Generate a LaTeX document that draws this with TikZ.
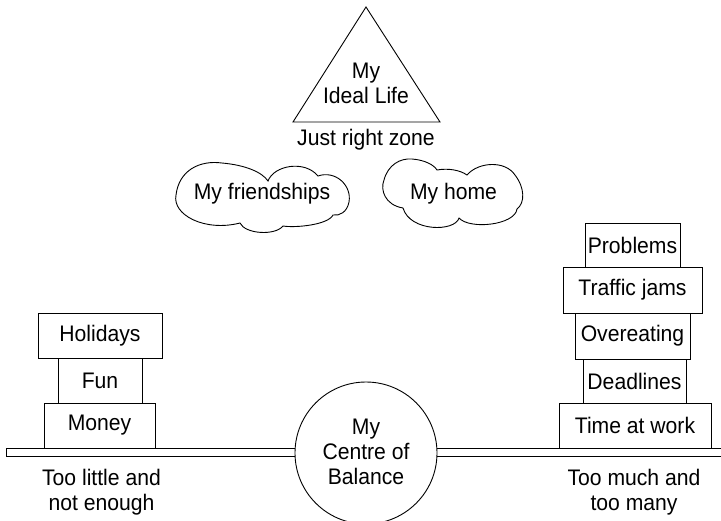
\documentclass[tikz,border=0pt]{standalone}
\usepackage{fontspec}
\setmainfont{Liberation Sans}[FakeStretch=0.94]
\begin{document}
\begin{tikzpicture}[x=1pt,y=-1pt,
  every node/.style={font=\fontsize{22.5}{25}\selectfont},
  lw/.style={line width=0.9pt},
  stackbox/.style={lw,draw,fill=white,inner sep=0pt,minimum height=45pt},
  cloudline/.style={lw,line join=miter},
  lbl/.style={align=center,inner sep=0pt}]
\useasboundingbox (0,0) rectangle (721,520);
% plank
\node[lw,draw,inner sep=0pt,minimum width=715pt,minimum height=8pt] (plank) at (364,452) {};
% centre circle
\node[lw,draw,fill=white,circle,minimum size=142pt,inner sep=0pt] (centre) at (366,453) {};
\node[lbl] (centretext) at (366,452) {My\\Centre of\\Balance};
% triangle
\coordinate (apex) at (366,7);
\coordinate (bl) at (293,122);
\coordinate (br) at (440,122);
\draw[lw,line join=miter] (apex) -- (bl) -- (br) -- cycle;
\node[lbl] (ideal) at (366,83) {My\\Ideal Life};
\node[lbl] (zone) at (366,140) {Just right zone};
% cloud: my friendships
\draw[cloudline] (240,223)
  .. controls (205,232) and (172,215) .. (176,195)
  .. controls (179,170) and (200,160) .. (222,163)
  .. controls (245,165) and (262,172) .. (268,181)
  .. controls (274,165) and (305,160) .. (318,176)
  .. controls (335,170) and (352,185) .. (349,202)
  .. controls (347,212) and (340,216) .. (333,215)
  .. controls (328,225) and (295,228) .. (283,226)
  .. controls (275,236) and (245,234) .. cycle;
\node[inner sep=0pt] (friendstext) at (262,194) {My friendships};
% cloud: my home
\draw[cloudline] (403,208)
  .. controls (385,205) and (380,190) .. (384,180)
  .. controls (388,165) and (400,158) .. (412,159)
  .. controls (425,160) and (434,165) .. (437,170)
  .. controls (448,168) and (460,170) .. (467,175)
  .. controls (478,162) and (505,160) .. (515,175)
  .. controls (525,188) and (525,203) .. (517,209)
  .. controls (515,225) and (470,230) .. (459,218)
  .. controls (455,232) and (410,232) .. cycle;
\node[inner sep=0pt] (hometext) at (453.5,194) {My home};
% left stack
\node[stackbox,minimum width=124pt] (holidays) at (100,335.5) {Holidays};
\node[stackbox,minimum width=84pt] (fun) at (100,380.5) {Fun};
\node[stackbox,minimum width=111pt] (money) at (99.5,425.5) {Money};
% right stack
\node[stackbox,minimum width=95pt,minimum height=44pt] (problems) at (632.5,245) {Problems};
\node[stackbox,minimum width=139pt,minimum height=46pt] (traffic) at (632.5,290) {Traffic jams};
\node[stackbox,minimum width=115pt,minimum height=46pt] (overeating) at (632.5,336) {Overeating};
\node[stackbox,minimum width=103pt,minimum height=44pt] (deadlines) at (634.5,381) {Deadlines};
\node[stackbox,minimum width=152pt] (work) at (635,425.5) {Time at work};
% bottom labels
\node[lbl] (little) at (101.5,492) {Too little and\\not enough};
\node[lbl] (much) at (634,492) {Too much and\\too many};
\end{tikzpicture}
\end{document}
